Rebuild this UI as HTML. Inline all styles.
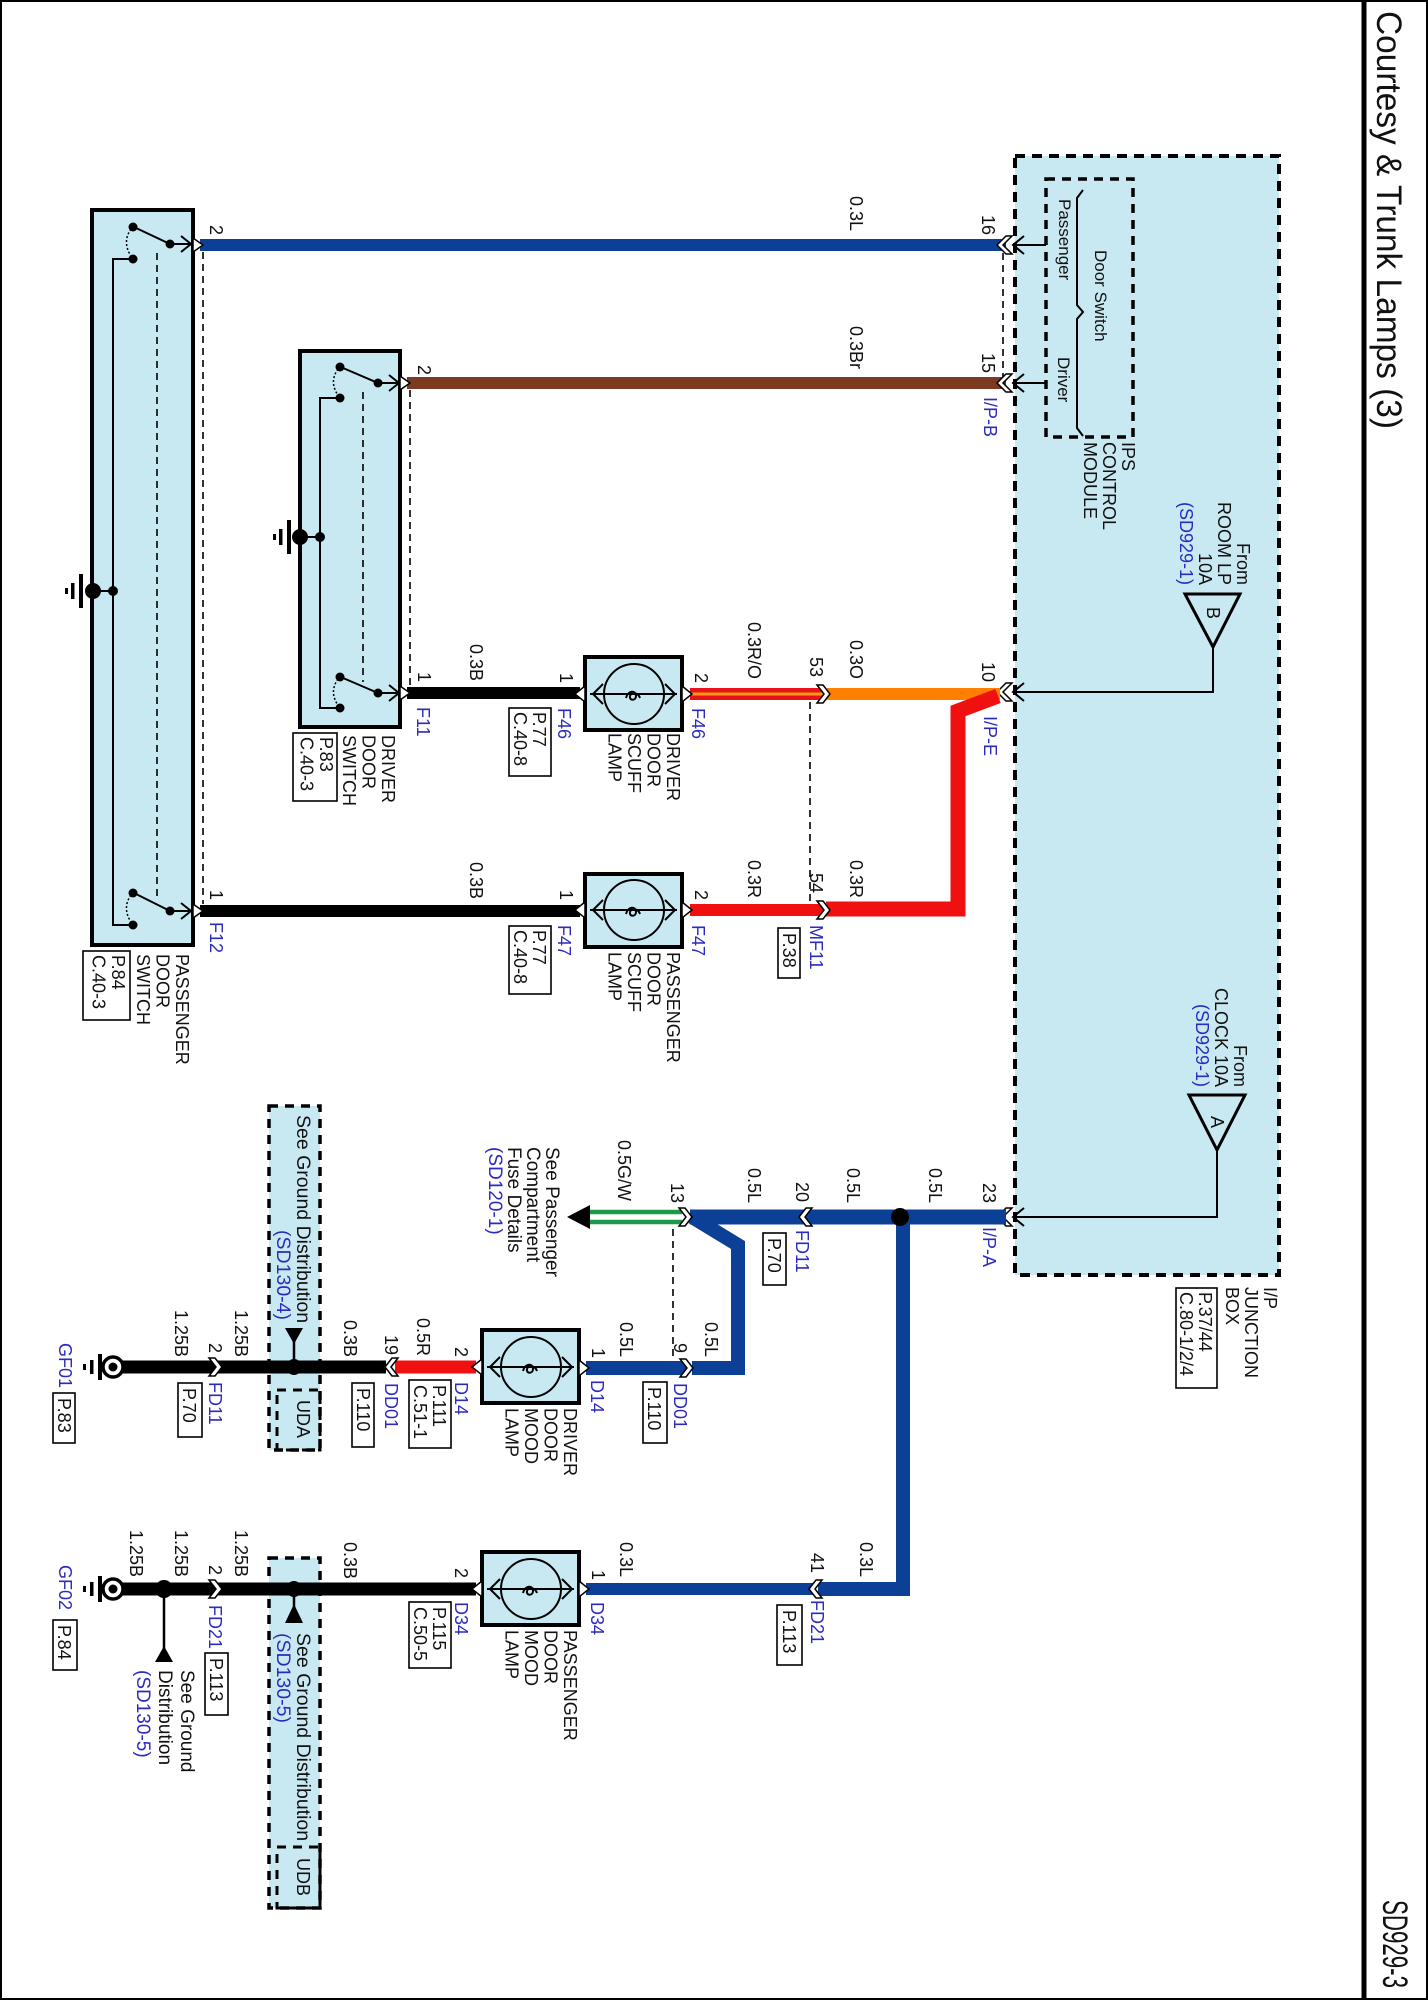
<!DOCTYPE html>
<html><head><meta charset="utf-8"><style>
html,body{margin:0;padding:0;background:#fff}
svg{display:block}
text{font-family:"Liberation Sans",Arial,sans-serif;font-size:18px;fill:#111}
.b{fill:#2b2bbf}
.t{font-size:35px}
.th{stroke:#000;stroke-width:2;fill:none}
.dash{stroke:#000;stroke-width:1.6;stroke-dasharray:7 5;fill:none}
.box{stroke:#000;stroke-width:4;fill:#c9e9f2}
.lbl{fill:#fff;stroke:#000;stroke-width:1.6}
.pin{fill:#fff;stroke:#000;stroke-width:1.5}
</style></head><body>
<svg width="1428" height="2000" viewBox="0 0 1428 2000" xmlns="http://www.w3.org/2000/svg">
<rect x="1" y="1" width="1426" height="1998" fill="none" stroke="#000" stroke-width="2"/>
<line x1="1364" y1="0" x2="1364" y2="2000" stroke="#000" stroke-width="5"/>
<text class="t" transform="translate(1377,11) rotate(90)" textLength="418" lengthAdjust="spacingAndGlyphs">Courtesy &amp; Trunk Lamps (3)</text>
<text class="t" transform="translate(1383,1900) rotate(90)" textLength="88" lengthAdjust="spacingAndGlyphs">SD929-3</text>

<!-- junction box -->
<rect x="1015" y="156" width="264" height="1119" fill="#c9e9f2" stroke="#000" stroke-width="4" stroke-dasharray="10 7"/>
<rect x="1046" y="179" width="87" height="258" fill="none" stroke="#000" stroke-width="3.5" stroke-dasharray="9 7"/>
<path d="M1083,190 L1077,198 L1077,305 L1083,312 L1077,319 L1077,428 L1083,436" class="th" stroke-width="1.5"/>
<text transform="translate(1095,250) rotate(90)" style="font-size:17px">Door Switch</text>
<text transform="translate(1059,199) rotate(90)" style="font-size:17px">Passenger</text>
<text transform="translate(1058,357) rotate(90)" style="font-size:17px">Driver</text>
<text transform="translate(1122,442) rotate(90)"><tspan x="0" y="0">IPS</tspan><tspan x="0" y="19">CONTROL</tspan><tspan x="0" y="38">MODULE</tspan></text>
<text transform="translate(1237,585) rotate(90)" text-anchor="end"><tspan x="0" y="0">From</tspan><tspan x="0" y="19">ROOM LP</tspan><tspan x="0" y="38">10A</tspan><tspan x="0" y="57" class="b">(SD929-1)</tspan></text>
<polygon points="1185,594 1240,594 1213,647" fill="none" stroke="#000" stroke-width="3"/>
<text transform="translate(1207,613) rotate(90)" text-anchor="middle">B</text>
<polyline points="1213,647 1213,692 1014,692" class="th" stroke-width="1.5"/>
<text transform="translate(1234,1087) rotate(90)" text-anchor="end"><tspan x="0" y="0">From</tspan><tspan x="0" y="19">CLOCK 10A</tspan><tspan x="0" y="38" class="b">(SD929-1)</tspan></text>
<polygon points="1189,1095 1245,1095 1217,1150" fill="none" stroke="#000" stroke-width="3"/>
<text transform="translate(1211,1122) rotate(90)" text-anchor="middle">A</text>
<polyline points="1217,1150 1217,1217 1014,1217" class="th" stroke-width="1.5"/>
<line x1="1014" y1="245" x2="1046" y2="245" class="th" stroke-width="1.5"/>
<line x1="1014" y1="383" x2="1046" y2="383" class="th" stroke-width="1.5"/>
<text transform="translate(1264,1287) rotate(90)"><tspan x="0" y="0">I/P</tspan><tspan x="0" y="19">JUNCTION</tspan><tspan x="0" y="38">BOX</tspan></text>
<rect x="1176" y="1288" width="41" height="100" class="lbl"/>
<text transform="translate(1199,1292) rotate(90)"><tspan x="0" y="0">P.37/44</tspan><tspan x="0" y="19">C.80-1/2/4</tspan></text>

<!-- top wires -->
<line x1="200" y1="245" x2="1006" y2="245" stroke="#0b4096" stroke-width="12"/>
<line x1="407" y1="383" x2="1006" y2="383" stroke="#7d3a22" stroke-width="12"/>
<line x1="1003" y1="253" x2="1003" y2="377" class="dash"/>
<g class="th">
<polyline points="1024,236 1013,245 1024,254"/><polyline points="1024,374 1013,383 1024,392"/>
<polyline points="1024,683 1013,692 1024,701"/><polyline points="1024,1208 1013,1217 1024,1226"/>
</g>
<polygon points="1012,236 1003,245 1012,254 1006,254 997,245 1006,236" class="pin"/>
<polygon points="1012,374 1003,383 1012,392 1006,392 997,383 1006,374" class="pin"/>
<polygon points="1012,683 1003,692 1012,701 1006,701 997,692 1006,683" class="pin"/>
<polygon points="1012,1208 1003,1217 1012,1226 1006,1226 997,1217 1006,1208" class="pin"/>
<text transform="translate(850,196) rotate(90)">0.3L</text>
<text transform="translate(982,215) rotate(90)">16</text>
<text transform="translate(850,326) rotate(90)">0.3Br</text>
<text transform="translate(982,353) rotate(90)">15</text>
<text class="b" transform="translate(984,397) rotate(90)">I/P-B</text>

<!-- orange / red -->
<line x1="690" y1="694" x2="824" y2="694" stroke="#e8121a" stroke-width="12"/>
<line x1="690" y1="694" x2="824" y2="694" stroke="#ff9a1a" stroke-width="3"/>
<line x1="826" y1="694" x2="1000" y2="694" stroke="#ff7f00" stroke-width="12"/>
<polyline points="998,696 958,711 958,909 826,909" fill="none" stroke="#f01010" stroke-width="15" stroke-linejoin="miter"/>
<line x1="690" y1="910" x2="824" y2="910" stroke="#f01010" stroke-width="12"/>
<polygon points="817,685 824,694 817,703 823,703 830,694 823,685" class="pin"/>
<polygon points="817,901 824,910 817,919 823,919 830,910 823,901" class="pin"/>
<line x1="810" y1="702" x2="810" y2="902" class="dash"/>
<text transform="translate(982,662) rotate(90)">10</text>
<text transform="translate(850,640) rotate(90)">0.3O</text>
<text class="b" transform="translate(984,716) rotate(90)">I/P-E</text>
<text transform="translate(810,657) rotate(90)">53</text>
<text transform="translate(748,622) rotate(90)">0.3R/O</text>
<text transform="translate(810,873) rotate(90)">54</text>
<text transform="translate(748,860) rotate(90)">0.3R</text>
<text transform="translate(850,860) rotate(90)">0.3R</text>
<text class="b" transform="translate(810,925) rotate(90)">MF11</text>
<rect x="778" y="928" width="22" height="50" class="lbl"/>
<text transform="translate(783,933) rotate(90)">P.38</text>

<!-- black wires to switches -->
<line x1="407" y1="693" x2="580" y2="693" stroke="#000" stroke-width="12"/>
<line x1="200" y1="911" x2="580" y2="911" stroke="#000" stroke-width="12"/>

<!-- scuff lamps -->
<g>
<rect x="585" y="657" width="97" height="73" class="box"/>
<circle cx="634" cy="694" r="30" fill="none" stroke="#000" stroke-width="2"/>
<line x1="590" y1="694" x2="677" y2="694" class="th" stroke-width="1.5"/>
<polyline points="603,684 593,694 603,704" class="th" stroke-width="1.5"/><polyline points="665,684 675,694 665,704" class="th" stroke-width="1.5"/>
<path d="M626,698 c2,-8 10,-8 10,-2 c0,5 -7,5 -6,0 c1,-4 8,-4 10,2" class="th" stroke-width="1.5"/>
<polygon points="585,686 575,694 585,702" class="pin"/><polygon points="682,686 692,694 682,702" class="pin"/>
</g>
<g>
<rect x="585" y="874" width="97" height="73" class="box"/>
<circle cx="634" cy="910" r="30" fill="none" stroke="#000" stroke-width="2"/>
<line x1="590" y1="910" x2="677" y2="910" class="th" stroke-width="1.5"/>
<polyline points="603,900 593,910 603,920" class="th" stroke-width="1.5"/><polyline points="665,900 675,910 665,920" class="th" stroke-width="1.5"/>
<path d="M626,914 c2,-8 10,-8 10,-2 c0,5 -7,5 -6,0 c1,-4 8,-4 10,2" class="th" stroke-width="1.5"/>
<polygon points="585,902 575,910 585,918" class="pin"/><polygon points="682,902 692,910 682,918" class="pin"/>
</g>
<text transform="translate(695,673) rotate(90)">2</text>
<text class="b" transform="translate(692,708) rotate(90)">F46</text>
<text transform="translate(560,673) rotate(90)">1</text>
<text class="b" transform="translate(558,708) rotate(90)">F46</text>
<rect x="509" y="708" width="42" height="68" class="lbl"/>
<text transform="translate(533,712) rotate(90)"><tspan x="0" y="0">P.77</tspan><tspan x="0" y="19">C.40-8</tspan></text>
<text transform="translate(470,644) rotate(90)">0.3B</text>
<text transform="translate(667,733) rotate(90)"><tspan x="0" y="0">DRIVER</tspan><tspan x="0" y="19.5">DOOR</tspan><tspan x="0" y="39">SCUFF</tspan><tspan x="0" y="58.5">LAMP</tspan></text>
<text transform="translate(695,890) rotate(90)">2</text>
<text class="b" transform="translate(692,925) rotate(90)">F47</text>
<text transform="translate(560,890) rotate(90)">1</text>
<text class="b" transform="translate(558,925) rotate(90)">F47</text>
<rect x="509" y="926" width="42" height="68" class="lbl"/>
<text transform="translate(533,930) rotate(90)"><tspan x="0" y="0">P.77</tspan><tspan x="0" y="19">C.40-8</tspan></text>
<text transform="translate(470,862) rotate(90)">0.3B</text>
<text transform="translate(667,952) rotate(90)"><tspan x="0" y="0">PASSENGER</tspan><tspan x="0" y="19.5">DOOR</tspan><tspan x="0" y="39">SCUFF</tspan><tspan x="0" y="58.5">LAMP</tspan></text>

<!-- passenger door switch -->
<rect x="92" y="210" width="101" height="735" class="box"/>
<g class="th">
<line x1="170" y1="244" x2="136" y2="228"/><line x1="170" y1="244" x2="192" y2="244"/>
<polyline points="181,236 191,244 181,252"/>
<polyline points="133,259 113,259 113,925 133,925"/>
<line x1="170" y1="911" x2="136" y2="894"/><line x1="170" y1="911" x2="192" y2="911"/>
<polyline points="181,903 191,911 181,919"/>
<line x1="113" y1="591" x2="93" y2="591"/>
</g>
<path d="M131,229 q-10,14 2,30" fill="none" stroke="#000" stroke-width="1.5" stroke-dasharray="2 2"/>
<path d="M131,895 q-10,14 2,30" fill="none" stroke="#000" stroke-width="1.5" stroke-dasharray="2 2"/>
<g fill="#000"><circle cx="133" cy="227" r="4.5"/><circle cx="170" cy="244" r="4.5"/><circle cx="133" cy="259" r="4.5"/>
<circle cx="133" cy="893" r="4.5"/><circle cx="170" cy="911" r="4.5"/><circle cx="133" cy="925" r="4.5"/>
<circle cx="113" cy="591" r="5"/><circle cx="93" cy="591" r="8"/>
<rect x="79" y="574" width="4" height="34"/><rect x="71" y="583" width="3.5" height="16"/><rect x="65" y="588" width="3" height="6"/></g>
<line x1="157" y1="253" x2="157" y2="896" class="dash"/>
<line x1="203" y1="252" x2="203" y2="904" class="dash"/>
<polygon points="193,238 203,245 193,252" class="pin"/><polygon points="193,904 203,911 193,918" class="pin"/>
<text transform="translate(210,225) rotate(90)">2</text>
<text transform="translate(210,890) rotate(90)">1</text>
<text class="b" transform="translate(210,922) rotate(90)">F12</text>
<text transform="translate(176,954) rotate(90)"><tspan x="0" y="0">PASSENGER</tspan><tspan x="0" y="19.5">DOOR</tspan><tspan x="0" y="39">SWITCH</tspan></text>
<rect x="83" y="951" width="47" height="69" class="lbl"/>
<text transform="translate(112,955) rotate(90)"><tspan x="0" y="0">P.84</tspan><tspan x="0" y="19.5">C.40-3</tspan></text>

<!-- driver door switch -->
<rect x="300" y="351" width="100" height="376" class="box"/>
<g class="th">
<line x1="378" y1="383" x2="343" y2="368"/><line x1="378" y1="383" x2="399" y2="383"/>
<polyline points="389,375 399,383 389,391"/>
<polyline points="340,398 320,398 320,708 340,708"/>
<line x1="378" y1="693" x2="343" y2="678"/><line x1="378" y1="693" x2="399" y2="693"/>
<polyline points="389,685 399,693 389,701"/>
<line x1="320" y1="537" x2="300" y2="537"/>
</g>
<path d="M338,369 q-10,14 2,29" fill="none" stroke="#000" stroke-width="1.5" stroke-dasharray="2 2"/>
<path d="M338,679 q-10,14 2,29" fill="none" stroke="#000" stroke-width="1.5" stroke-dasharray="2 2"/>
<g fill="#000"><circle cx="340" cy="367" r="4.5"/><circle cx="378" cy="383" r="4.5"/><circle cx="340" cy="398" r="4.5"/>
<circle cx="340" cy="677" r="4.5"/><circle cx="378" cy="693" r="4.5"/><circle cx="340" cy="708" r="4.5"/>
<circle cx="320" cy="537" r="5"/><circle cx="300" cy="537" r="8"/>
<rect x="287" y="520" width="4" height="34"/><rect x="279" y="529" width="3.5" height="16"/><rect x="273" y="534" width="3" height="6"/></g>
<line x1="363" y1="392" x2="363" y2="682" class="dash"/>
<line x1="410" y1="390" x2="410" y2="686" class="dash"/>
<polygon points="400,376 410,383 400,390" class="pin"/><polygon points="400,686 410,693 400,700" class="pin"/>
<text transform="translate(418,365) rotate(90)">2</text>
<text transform="translate(418,672) rotate(90)">1</text>
<text class="b" transform="translate(417,707) rotate(90)">F11</text>
<text transform="translate(382,735) rotate(90)"><tspan x="0" y="0">DRIVER</tspan><tspan x="0" y="19.5">DOOR</tspan><tspan x="0" y="39">SWITCH</tspan></text>
<rect x="293" y="733" width="44" height="68" class="lbl"/>
<text transform="translate(320,737) rotate(90)"><tspan x="0" y="0">P.83</tspan><tspan x="0" y="19.5">C.40-3</tspan></text>

<!-- bottom blue -->
<line x1="690" y1="1217" x2="1006" y2="1217" stroke="#0b4096" stroke-width="15"/>
<polyline points="692,1217 738,1245 738,1368 692,1368" fill="none" stroke="#0b4096" stroke-width="14"/>
<line x1="586" y1="1368" x2="686" y2="1368" stroke="#0b4096" stroke-width="14"/>
<polyline points="903,1217 903,1589 818,1589" fill="none" stroke="#0b4096" stroke-width="14"/>
<line x1="586" y1="1589" x2="815" y2="1589" stroke="#0b4096" stroke-width="12"/>
<circle cx="900" cy="1217" r="9" fill="#000"/>
<line x1="588" y1="1212" x2="682" y2="1212" stroke="#1a9a4a" stroke-width="4.5"/>
<line x1="588" y1="1222" x2="682" y2="1222" stroke="#1a9a4a" stroke-width="4.5"/>
<polygon points="567,1217 590,1205 590,1229" fill="#000"/>
<polygon points="679,1208 686,1217 679,1226 685,1226 692,1217 685,1208" class="pin"/>
<polygon points="812,1208 805,1217 812,1226 806,1226 799,1217 806,1208" class="pin"/>
<polygon points="680,1359 687,1368 680,1377 686,1377 693,1368 686,1359" class="pin"/>
<polygon points="822,1580 815,1589 822,1598 816,1598 809,1589 816,1580" class="pin"/>
<line x1="673" y1="1229" x2="673" y2="1358" class="dash"/>
<text transform="translate(983,1183) rotate(90)">23</text>
<text class="b" transform="translate(983,1227) rotate(90)">I/P-A</text>
<text transform="translate(929,1168) rotate(90)">0.5L</text>
<text transform="translate(847,1168) rotate(90)">0.5L</text>
<text transform="translate(796,1182) rotate(90)">20</text>
<text class="b" transform="translate(796,1230) rotate(90)">FD11</text>
<rect x="763" y="1233" width="23" height="52" class="lbl"/>
<text transform="translate(768,1238) rotate(90)">P.70</text>
<text transform="translate(748,1168) rotate(90)">0.5L</text>
<text transform="translate(671,1183) rotate(90)">13</text>
<text transform="translate(618,1140) rotate(90)">0.5G/W</text>
<text transform="translate(546,1147) rotate(90)" style="font-size:19px"><tspan x="0" y="0">See Passenger</tspan><tspan x="0" y="19">Compartment</tspan><tspan x="0" y="38">Fuse Details</tspan><tspan x="0" y="57" class="b">(SD120-1)</tspan></text>

<!-- UDA box (behind wire) -->
<rect x="269" y="1106" width="51" height="344" fill="#c9e9f2" stroke="#000" stroke-width="3.5" stroke-dasharray="9 7"/>
<rect x="277" y="1390" width="43" height="60" fill="none" stroke="#000" stroke-width="3" stroke-dasharray="9 7"/>
<!-- UDB box (behind wire) -->
<rect x="269" y="1558" width="51" height="350" fill="#c9e9f2" stroke="#000" stroke-width="3.5" stroke-dasharray="9 7"/>
<rect x="277" y="1847" width="43" height="61" fill="none" stroke="#000" stroke-width="3" stroke-dasharray="9 7"/>

<!-- mood lamp wires -->
<line x1="395" y1="1367" x2="476" y2="1367" stroke="#f01010" stroke-width="13"/>
<line x1="120" y1="1367" x2="386" y2="1367" stroke="#000" stroke-width="13"/>
<line x1="120" y1="1589" x2="476" y2="1589" stroke="#000" stroke-width="13"/>
<polygon points="392,1358 385,1367 392,1376 398,1376 391,1367 398,1358" class="pin"/>
<polygon points="209,1358 216,1367 209,1376 215,1376 222,1367 215,1358" class="pin"/>
<polygon points="209,1580 216,1589 209,1598 215,1598 222,1589 215,1580" class="pin"/>
<g>
<rect x="482" y="1330" width="97" height="73" class="box"/>
<circle cx="531" cy="1367" r="30" fill="none" stroke="#000" stroke-width="2"/>
<line x1="487" y1="1367" x2="574" y2="1367" class="th" stroke-width="1.5"/>
<polyline points="500,1357 490,1367 500,1377" class="th" stroke-width="1.5"/><polyline points="562,1357 572,1367 562,1377" class="th" stroke-width="1.5"/>
<path d="M523,1371 c2,-8 10,-8 10,-2 c0,5 -7,5 -6,0 c1,-4 8,-4 10,2" class="th" stroke-width="1.5"/>
<polygon points="482,1359 472,1367 482,1375" class="pin"/><polygon points="579,1360 589,1368 579,1376" class="pin"/>
</g>
<g>
<rect x="482" y="1552" width="97" height="73" class="box"/>
<circle cx="531" cy="1589" r="30" fill="none" stroke="#000" stroke-width="2"/>
<line x1="487" y1="1589" x2="574" y2="1589" class="th" stroke-width="1.5"/>
<polyline points="500,1579 490,1589 500,1599" class="th" stroke-width="1.5"/><polyline points="562,1579 572,1589 562,1599" class="th" stroke-width="1.5"/>
<path d="M523,1593 c2,-8 10,-8 10,-2 c0,5 -7,5 -6,0 c1,-4 8,-4 10,2" class="th" stroke-width="1.5"/>
<polygon points="482,1581 472,1589 482,1597" class="pin"/><polygon points="579,1581 589,1589 579,1597" class="pin"/>
</g>
<text transform="translate(592,1348) rotate(90)">1</text>
<text transform="translate(620,1322) rotate(90)">0.5L</text>
<text class="b" transform="translate(591,1380) rotate(90)">D14</text>
<text transform="translate(674,1343) rotate(90)">9</text>
<text class="b" transform="translate(674,1383) rotate(90)">DD01</text>
<rect x="643" y="1382" width="24" height="61" class="lbl"/>
<text transform="translate(648,1387) rotate(90)">P.110</text>
<text transform="translate(705,1322) rotate(90)">0.5L</text>
<text transform="translate(564,1408) rotate(90)"><tspan x="0" y="0">DRIVER</tspan><tspan x="0" y="19.5">DOOR</tspan><tspan x="0" y="39">MOOD</tspan><tspan x="0" y="58.5">LAMP</tspan></text>
<text transform="translate(455,1347) rotate(90)">2</text>
<text class="b" transform="translate(455,1382) rotate(90)">D14</text>
<rect x="409" y="1380" width="42" height="68" class="lbl"/>
<text transform="translate(433,1385) rotate(90)"><tspan x="0" y="0">P.111</tspan><tspan x="0" y="19">C.51-1</tspan></text>
<text transform="translate(417,1318) rotate(90)">0.5R</text>
<text transform="translate(385,1335) rotate(90)">19</text>
<text class="b" transform="translate(385,1383) rotate(90)">DD01</text>
<rect x="352" y="1383" width="22" height="64" class="lbl"/>
<text transform="translate(357,1388) rotate(90)">P.110</text>
<text transform="translate(344,1320) rotate(90)">0.3B</text>
<text transform="translate(235,1310) rotate(90)">1.25B</text>
<text transform="translate(209,1343) rotate(90)">2</text>
<text class="b" transform="translate(209,1382) rotate(90)">FD11</text>
<rect x="178" y="1383" width="24" height="54" class="lbl"/>
<text transform="translate(183,1388) rotate(90)">P.70</text>
<text transform="translate(175,1310) rotate(90)">1.25B</text>
<text class="b" transform="translate(59,1343) rotate(90)">GF01</text>
<rect x="53" y="1393" width="22" height="50" class="lbl"/>
<text transform="translate(58,1398) rotate(90)">P.83</text>

<!-- UDA content -->
<text transform="translate(297,1115) rotate(90)" style="font-size:19.5px">See Ground Distribution</text>
<text class="b" transform="translate(277,1320) rotate(90)" text-anchor="end" style="font-size:19.5px">(SD130-4)</text>
<polygon points="285,1328 303,1328 294,1344" fill="#000"/>
<line x1="294" y1="1340" x2="294" y2="1367" stroke="#000" stroke-width="2.5"/>
<circle cx="294" cy="1367" r="8" fill="#000"/>
<text transform="translate(297,1400) rotate(90)">UDA</text>
<circle cx="113" cy="1367" r="10" fill="#fff" stroke="#000" stroke-width="3.5"/>
<circle cx="113" cy="1367" r="4.5" fill="#000"/>
<rect x="98" y="1354" width="4" height="26" fill="#000"/><rect x="90" y="1360" width="3.5" height="14" fill="#000"/><rect x="83" y="1364" width="3" height="6" fill="#000"/>

<!-- passenger mood labels -->
<text transform="translate(592,1570) rotate(90)">1</text>
<text transform="translate(620,1542) rotate(90)">0.3L</text>
<text class="b" transform="translate(591,1602) rotate(90)">D34</text>
<text transform="translate(811,1553) rotate(90)">41</text>
<text class="b" transform="translate(811,1600) rotate(90)">FD21</text>
<rect x="777" y="1605" width="25" height="60" class="lbl"/>
<text transform="translate(783,1610) rotate(90)">P.113</text>
<text transform="translate(860,1542) rotate(90)">0.3L</text>
<text transform="translate(564,1630) rotate(90)"><tspan x="0" y="0">PASSENGER</tspan><tspan x="0" y="19.5">DOOR</tspan><tspan x="0" y="39">MOOD</tspan><tspan x="0" y="58.5">LAMP</tspan></text>
<text transform="translate(455,1568) rotate(90)">2</text>
<text class="b" transform="translate(455,1602) rotate(90)">D34</text>
<rect x="409" y="1602" width="42" height="66" class="lbl"/>
<text transform="translate(433,1607) rotate(90)"><tspan x="0" y="0">P.115</tspan><tspan x="0" y="19">C.50-5</tspan></text>
<text transform="translate(344,1542) rotate(90)">0.3B</text>
<circle cx="294" cy="1589" r="8" fill="#000"/>
<line x1="294" y1="1589" x2="294" y2="1608" stroke="#000" stroke-width="2.5"/>
<polygon points="294,1604 285,1623 303,1623" fill="#000"/>
<text transform="translate(297,1633) rotate(90)" style="font-size:19.5px">See Ground Distribution</text>
<text class="b" transform="translate(277,1633) rotate(90)" style="font-size:19.5px">(SD130-5)</text>
<text transform="translate(297,1858) rotate(90)">UDB</text>
<text transform="translate(235,1530) rotate(90)">1.25B</text>
<text transform="translate(209,1565) rotate(90)">2</text>
<text class="b" transform="translate(209,1605) rotate(90)">FD21</text>
<rect x="205" y="1653" width="23" height="62" class="lbl"/>
<text transform="translate(210,1658) rotate(90)">P.113</text>
<text transform="translate(175,1530) rotate(90)">1.25B</text>
<circle cx="164" cy="1589" r="9" fill="#000"/>
<line x1="164" y1="1589" x2="164" y2="1650" stroke="#000" stroke-width="2.5"/>
<polygon points="164,1646 155,1662 173,1662" fill="#000"/>
<text transform="translate(181,1670) rotate(90)" style="font-size:19px"><tspan x="0" y="0">See Ground</tspan><tspan x="0" y="22">Distribution</tspan><tspan x="0" y="44" class="b">(SD130-5)</tspan></text>
<text transform="translate(130,1530) rotate(90)">1.25B</text>
<text class="b" transform="translate(59,1565) rotate(90)">GF02</text>
<rect x="53" y="1620" width="24" height="50" class="lbl"/>
<text transform="translate(58,1625) rotate(90)">P.84</text>
<circle cx="113" cy="1589" r="10" fill="#fff" stroke="#000" stroke-width="3.5"/>
<circle cx="113" cy="1589" r="4.5" fill="#000"/>
<rect x="98" y="1576" width="4" height="26" fill="#000"/><rect x="90" y="1582" width="3.5" height="14" fill="#000"/><rect x="83" y="1586" width="3" height="6" fill="#000"/>
</svg>
</body></html>
